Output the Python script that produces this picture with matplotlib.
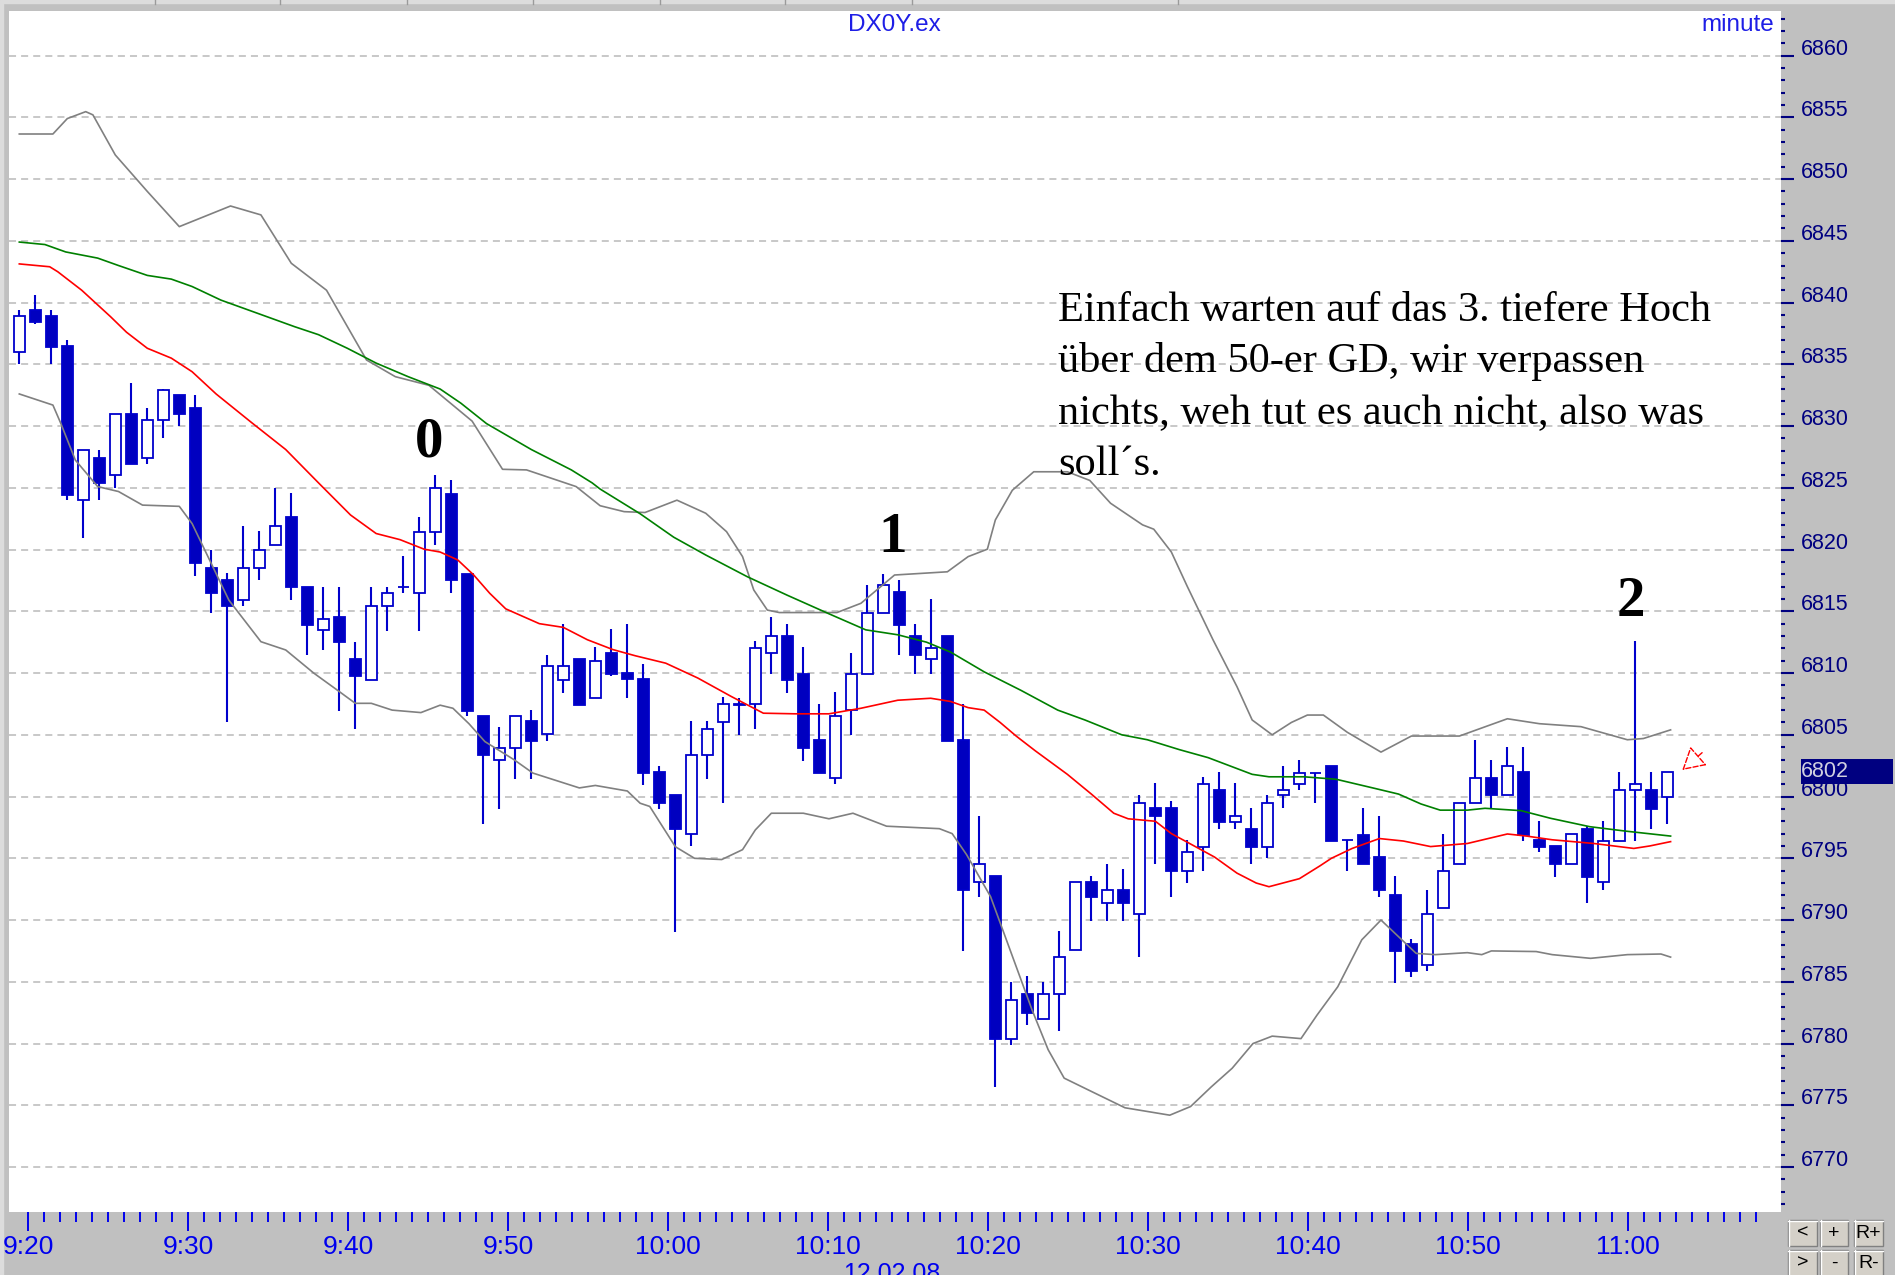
import matplotlib
matplotlib.use("Agg")
import matplotlib.pyplot as plt
from matplotlib.patches import Rectangle
from matplotlib.transforms import ScaledTranslation, blended_transform_factory

# DX0Y.ex, 1-minute candles from 9:20 (12.02.08)
opens = [6836.0, 6839.4, 6838.9, 6836.5, 6824.0, 6827.4, 6826.0, 6831.0, 6827.4, 6830.5,
         6832.5, 6831.5, 6818.5, 6817.5, 6815.9, 6818.5, 6820.4, 6822.6, 6817.0, 6813.5,
         6814.5, 6811.1, 6809.4, 6815.4, 6817.0, 6816.5, 6821.4, 6824.5, 6818.0, 6806.5,
         6803.0, 6803.9, 6806.1, 6805.1, 6809.4, 6811.1, 6808.0, 6811.6, 6810.0, 6809.5,
         6802.0, 6800.1, 6797.0, 6803.4, 6806.0, 6807.5, 6807.5, 6811.6, 6813.0, 6809.9,
         6804.6, 6801.5, 6807.0, 6809.9, 6814.9, 6816.6, 6813.0, 6811.1, 6813.0, 6804.6,
         6793.1, 6793.6, 6780.4, 6784.0, 6782.0, 6784.0, 6787.6, 6793.1, 6791.4, 6792.4,
         6790.5, 6799.1, 6799.1, 6794.0, 6795.9, 6800.5, 6797.9, 6797.4, 6795.9, 6800.1,
         6801.0, 6801.9, 6802.5, 6796.5, 6796.9, 6795.1, 6792.0, 6788.1, 6786.4, 6791.0,
         6794.5, 6799.5, 6801.5, 6800.1, 6802.0, 6796.5, 6796.0, 6794.5, 6797.4, 6793.1,
         6796.4, 6800.5, 6800.5, 6800.0]
highs = [6839.4, 6840.6, 6839.4, 6837.0, 6828.1, 6828.1, 6831.0, 6833.5, 6831.5, 6833.0,
         6832.5, 6832.5, 6820.0, 6818.1, 6821.9, 6821.5, 6825.0, 6824.6, 6817.0, 6817.0,
         6817.0, 6812.5, 6817.0, 6817.0, 6819.5, 6822.6, 6826.0, 6825.6, 6818.0, 6806.5,
         6805.6, 6806.5, 6807.0, 6811.5, 6814.0, 6811.1, 6812.1, 6813.6, 6814.0, 6810.7,
         6802.5, 6800.1, 6806.1, 6806.1, 6808.1, 6808.0, 6812.6, 6814.5, 6814.0, 6812.1,
         6807.5, 6808.5, 6811.6, 6817.1, 6818.0, 6817.5, 6814.0, 6816.0, 6813.0, 6807.5,
         6798.4, 6793.6, 6785.0, 6785.5, 6785.0, 6789.1, 6793.1, 6793.6, 6794.5, 6794.1,
         6800.1, 6801.1, 6799.6, 6796.5, 6801.6, 6802.0, 6801.1, 6799.1, 6800.1, 6802.5,
         6803.0, 6801.9, 6802.5, 6796.5, 6799.1, 6798.4, 6793.6, 6788.5, 6792.4, 6797.0,
         6799.5, 6804.6, 6803.0, 6804.0, 6804.0, 6798.0, 6796.0, 6797.0, 6797.6, 6798.0,
         6802.0, 6812.6, 6802.0, 6802.0]
lows = [6835.0, 6838.3, 6835.0, 6824.0, 6820.9, 6824.0, 6825.0, 6826.9, 6826.9, 6829.0,
        6830.0, 6817.9, 6814.9, 6806.0, 6815.4, 6817.5, 6820.4, 6815.9, 6811.5, 6811.9,
        6806.9, 6805.5, 6809.4, 6813.4, 6816.5, 6813.4, 6820.4, 6816.5, 6806.5, 6797.8,
        6799.0, 6801.4, 6801.4, 6804.5, 6808.4, 6807.4, 6808.0, 6809.8, 6808.0, 6800.9,
        6799.0, 6789.0, 6796.0, 6801.4, 6799.5, 6805.0, 6805.5, 6809.9, 6808.4, 6802.9,
        6801.9, 6801.0, 6805.0, 6809.9, 6814.9, 6811.5, 6809.9, 6809.9, 6804.5, 6787.5,
        6791.9, 6776.5, 6779.9, 6781.5, 6782.0, 6781.0, 6787.6, 6789.9, 6789.9, 6789.9,
        6787.0, 6794.5, 6791.9, 6793.0, 6794.0, 6797.4, 6797.4, 6794.5, 6795.0, 6799.1,
        6800.5, 6799.5, 6796.4, 6794.0, 6794.5, 6791.9, 6784.9, 6785.4, 6785.9, 6791.0,
        6794.5, 6799.5, 6799.1, 6800.1, 6796.4, 6795.5, 6793.5, 6794.5, 6791.4, 6792.4,
        6796.4, 6796.4, 6797.4, 6797.8]
closes = [6838.9, 6838.4, 6836.4, 6824.4, 6828.1, 6825.4, 6831.0, 6826.9, 6830.5, 6832.9,
          6831.0, 6818.9, 6816.5, 6815.4, 6818.5, 6820.0, 6821.9, 6817.0, 6813.9, 6814.4,
          6812.5, 6809.8, 6815.4, 6816.5, 6817.0, 6821.4, 6825.0, 6817.5, 6806.9, 6803.4,
          6803.9, 6806.5, 6804.5, 6810.6, 6810.6, 6807.4, 6811.0, 6809.9, 6809.5, 6801.9,
          6799.5, 6797.4, 6803.4, 6805.5, 6807.5, 6807.4, 6812.0, 6813.0, 6809.4, 6803.9,
          6801.9, 6806.5, 6809.9, 6814.9, 6817.1, 6813.9, 6811.5, 6812.0, 6804.5, 6792.4,
          6794.5, 6780.4, 6783.5, 6782.5, 6784.0, 6787.0, 6793.1, 6791.9, 6792.4, 6791.4,
          6799.5, 6798.4, 6794.0, 6795.5, 6801.0, 6797.9, 6798.4, 6795.9, 6799.5, 6800.5,
          6801.9, 6801.9, 6796.4, 6796.5, 6794.5, 6792.4, 6787.5, 6785.9, 6790.5, 6794.0,
          6799.5, 6801.5, 6800.1, 6802.5, 6796.9, 6795.9, 6794.5, 6797.0, 6793.5, 6796.4,
          6800.5, 6801.0, 6799.0, 6802.0]

# indicator lines: (bar index, price)
upper_x = [0, 2.1, 3.0, 4.15, 4.6, 6.0, 8.0, 10.0, 13.2, 15.1, 17.0, 19.2, 21.7, 23.5, 25.6,
           28.3, 30.2, 31.7, 34.8, 36.3, 37.8, 39.1, 41.1, 42.9, 44.2, 45.2, 45.9, 46.75,
           47.5, 51.1, 52.6, 54.7, 58.0, 59.3, 60.5, 61.0, 62.06, 63.4, 65.5, 66.9, 68.2,
           70.2, 70.9, 72.0, 73.0, 74.6, 76.1, 77.05, 78.3, 79.5, 80.5, 81.5, 83.0, 85.1,
           87.0, 90.0, 93.0, 95.0, 97.6, 100.5, 101.5, 103.2]
upper_y = [6853.65, 6853.65, 6854.9, 6855.46, 6855.2, 6851.95, 6849.0, 6846.15, 6847.82,
           6847.1, 6843.18, 6841.0, 6835.35, 6834.0, 6833.3, 6830.4, 6826.5, 6826.45,
           6825.1, 6823.55, 6823.07, 6823.0, 6824.0, 6822.94, 6821.45, 6819.43, 6816.73,
           6815.1, 6814.9, 6814.9, 6815.65, 6817.94, 6818.2, 6819.43, 6820.03, 6822.4,
           6824.8, 6826.3, 6826.3, 6825.6, 6823.75, 6822.0, 6821.65, 6819.8, 6817.0,
           6812.7, 6808.9, 6806.2, 6805.0, 6806.0, 6806.6, 6806.6, 6805.2, 6803.6, 6804.9,
           6804.9, 6806.3, 6805.9, 6805.66, 6804.6, 6804.7, 6805.4]

lower_x = [0, 2.1, 2.6, 3.5, 4.9, 6.2, 7.7, 10.0, 10.8, 11.8, 13.1, 15.1, 16.65, 18.4, 20.0,
           21.0, 22.0, 23.3, 25.1, 26.3, 27.1, 28.1, 29.1, 30.9, 32.1, 35.0, 36.0, 38.0,
           38.8, 39.4, 41.0, 42.2, 43.9, 45.2, 46.0, 47.0, 49.0, 50.6, 52.1, 54.2, 57.5,
           58.3, 59.2, 60.7, 62.0, 63.3, 64.3, 65.3, 66.8, 69.1, 71.9, 73.2, 74.5, 75.8,
           77.1, 78.3, 80.1, 81.1, 82.4, 83.9, 85.1, 86.2, 87.3, 88.5, 90.5, 91.4, 92.0,
           94.8, 95.8, 98.2, 100.5, 102.6, 103.2]
lower_y = [6832.6, 6831.7, 6830.2, 6827.25, 6825.1, 6824.7, 6823.6, 6823.5, 6822.1, 6819.4,
           6815.9, 6812.54, 6811.87, 6810.0, 6808.5, 6807.55, 6807.55, 6807.0, 6806.8,
           6807.4, 6807.15, 6805.9, 6804.45, 6803.0, 6801.9, 6800.7, 6800.9, 6800.45,
           6799.46, 6799.2, 6795.94, 6795.0, 6794.9, 6795.7, 6797.3, 6798.65, 6798.65,
           6798.2, 6798.65, 6797.6, 6797.4, 6797.0, 6795.3, 6791.9, 6787.3, 6782.7, 6779.5,
           6777.2, 6776.25, 6774.8, 6774.2, 6774.9, 6776.5, 6778.0, 6780.0, 6780.6, 6780.4,
           6782.3, 6784.6, 6788.4, 6790.0, 6788.65, 6787.3, 6787.2, 6787.36, 6787.2, 6787.5,
           6787.45, 6787.2, 6786.9, 6787.2, 6787.25, 6787.0]

red_x = [0, 1.9, 2.4, 3.9, 5.7, 6.7, 8.0, 9.5, 10.8, 12.3, 14.5, 16.65, 18.7, 20.7, 22.3,
         23.8, 25.3, 26.3, 27.4, 28.4, 29.4, 30.4, 32.5, 34.0, 35.5, 37.1, 38.5, 40.4, 42.4,
         44.5, 46.5, 48.5, 50.6, 52.6, 54.9, 56.96, 58.2, 59.3, 60.3, 61.3, 62.3, 63.5, 65.5,
         67.0, 68.4, 69.3, 71.0, 72.0, 73.0, 74.7, 76.1, 77.3, 78.1, 80.0, 81.3, 82.0, 83.3,
         85.0, 86.5, 88.2, 90.5, 93.0, 94.2, 95.8, 98.4, 100.9, 101.9, 103.2]
red_y = [6843.13, 6842.9, 6842.5, 6841.0, 6838.86, 6837.6, 6836.3, 6835.5, 6834.4, 6832.6,
         6830.3, 6828.1, 6825.4, 6822.8, 6821.3, 6820.8, 6820.03, 6819.8, 6819.16, 6817.94,
         6816.46, 6815.2, 6814.0, 6813.7, 6812.7, 6811.9, 6811.4, 6810.8, 6809.6, 6808.1,
         6806.75, 6806.7, 6806.7, 6807.15, 6807.8, 6807.96, 6807.7, 6807.2, 6807.0, 6806.0,
         6804.9, 6803.7, 6801.8, 6800.2, 6798.65, 6798.2, 6798.0, 6797.0, 6796.3, 6795.1,
         6793.8, 6793.0, 6792.7, 6793.35, 6794.4, 6795.0, 6795.8, 6796.6, 6796.4, 6795.95,
         6796.2, 6796.97, 6796.8, 6796.5, 6796.2, 6795.8, 6796.0, 6796.35]

green_x = [0, 1.6, 2.9, 4.9, 6.2, 8.0, 9.5, 10.8, 12.6, 14.1, 17.2, 18.7, 20.5, 22.3, 24.3,
           26.3, 27.6, 29.2, 32.0, 34.5, 35.8, 36.3, 38.8, 40.9, 42.9, 45.5, 48.0, 50.6,
           52.9, 54.9, 56.7, 58.2, 60.3, 62.6, 64.9, 66.6, 68.9, 70.5, 72.5, 74.3, 77.05,
           78.1, 80.3, 82.3, 84.75, 86.2, 87.6, 88.8, 90.5, 91.6, 93.85, 95.7, 98.15, 100.4,
           103.2]
green_y = [6844.9, 6844.7, 6844.1, 6843.6, 6843.0, 6842.2, 6841.9, 6841.3, 6840.2, 6839.5,
           6838.05, 6837.4, 6836.3, 6835.1, 6834.0, 6833.0, 6831.85, 6830.2, 6828.1,
           6826.45, 6825.4, 6824.9, 6822.9, 6821.0, 6819.56, 6817.8, 6816.3, 6814.8,
           6813.5, 6813.1, 6812.5, 6811.7, 6810.1, 6808.6, 6807.0, 6806.2, 6805.0, 6804.6,
           6803.8, 6803.15, 6801.8, 6801.6, 6801.6, 6801.4, 6800.65, 6800.2, 6799.4, 6798.9,
           6798.9, 6799.05, 6798.86, 6798.24, 6797.56, 6797.2, 6796.8]

time_labels = ['9:20', '9:30', '9:40', '9:50', '10:00', '10:10', '10:20', '10:30',
               '10:40', '10:50', '11:00']
price_ticks = list(range(6770, 6861, 5))
last_price = 6802

note_lines = ['Einfach warten auf das 3. tiefere Hoch',
              'über dem 50-er GD, wir verpassen',
              'nichts, weh tut es auch nicht, also was',
              'soll´s.']
note_prices = [6838.47, 6834.36, 6830.15, 6826.04]
marks = ['0', '1', '2']
mark_x = [25.6, 54.6, 100.7]
mark_y = [6827.5, 6819.8, 6814.6]

plt.rcParams['font.family'] = ['Liberation Sans', 'DejaVu Sans']
narrow = ['Liberation Sans Narrow', 'Liberation Sans', 'DejaVu Sans']
blue = '#0000cc'
W, H = 1895, 1275

fig = plt.figure(figsize=(W / 100, H / 100), dpi=100, facecolor='#c0c0c0')

# window frame (pixel coordinates)
bg = fig.add_axes([0, 0, 1, 1])
bg.set_xlim(0, W)
bg.set_ylim(H, 0)
bg.axis('off')
bg.add_patch(Rectangle((0, 0), W, 3, color='#dcdcdc'))
for sx in [155, 280, 407, 533, 660, 785, 912, 1178]:
    bg.plot([sx, sx], [0, 4], color='#9a9a9a', lw=1)
bg.add_patch(Rectangle((0, 0), 3, H, color='#dcdcdc'))
# buttons
for bx, bw, row, txt in [(1788, 29, 0, '<'), (1820, 28, 0, '+'), (1854, 29, 0, 'R+'),
                          (1788, 29, 1, '>'), (1820, 28, 1, '-'), (1854, 29, 1, 'R-')]:
    by = 1220 + row * 30
    bg.add_patch(Rectangle((bx, by), bw, 26, facecolor='#d4d0c8', edgecolor='#808080', lw=1))
    bg.plot([bx, bx + bw], [by + 1, by + 1], color='white', lw=1)
    bg.plot([bx + 1, bx + 1], [by, by + 26], color='white', lw=1)
    bg.text(bx + bw / 2, by + 13, txt, ha='center', va='center', fontsize=14, color='black')
bg.text(892, 1262, '12.02.08', ha='center', va='top', fontsize=18, color='#0000ee',
        family=narrow)

ax = fig.add_axes([9 / W, 1 - 1212 / H, (1781 - 9) / W, (1212 - 11) / H])
ax.set_facecolor('white')
ax.set_xlim(-0.644, 110.1)
ax.set_ylim(6766.36, 6863.61)
for s in ax.spines.values():
    s.set_visible(False)

ax.set_axisbelow(True)
ax.yaxis.tick_right()
ax.set_yticks(price_ticks)
ax.set_yticks(range(6767, 6864), minor=True)
ax.grid(True, axis='y', which='major', color='#c4c4c4', linestyle=(0, (3.9, 2.8)), lw=1.3)
ax.tick_params(axis='y', which='major', direction='out', length=9.5, width=1.5,
               colors='#000080', labelsize=15.5, pad=5)
ax.tick_params(axis='y', which='minor', direction='out', length=2.6, width=1.5,
               color='#000080')
for lbl in ax.get_yticklabels():
    lbl.set_transform(lbl.get_transform() + ScaledTranslation(0, 0.09, fig.dpi_scale_trans))

ax.set_xticks([m + 0.55 for m in range(0, 101, 10)])
ax.set_xticklabels(time_labels, family=narrow)
ax.set_xticks([m + 0.55 for m in range(0, 109)], minor=True)
ax.tick_params(axis='x', which='major', direction='out', length=13.7, width=1.4,
               colors='#0000ee', labelsize=19, pad=3)
ax.tick_params(axis='x', which='minor', direction='out', length=7.2, width=1.4,
               color='#0000ee')

# candles
idx = list(range(len(opens)))
ax.vlines(idx, lows, highs, color=blue, lw=1.5, zorder=2)
bottoms = [min(o, c) for o, c in zip(opens, closes)]
heights = [abs(c - o) for o, c in zip(opens, closes)]
faces = ['white' if c >= o else '#0000c0' for o, c in zip(opens, closes)]
ax.bar(idx, heights, bottom=bottoms, width=0.7, color=faces, edgecolor=blue, lw=1.3,
       zorder=3)

# bands and moving averages
ax.plot(upper_x, upper_y, color='#808080', lw=1.2, zorder=4)
ax.plot(lower_x, lower_y, color='#808080', lw=1.2, zorder=4)
ax.plot(red_x, red_y, color='#ff0000', lw=1.2, zorder=4)
ax.plot(green_x, green_y, color='#008000', lw=1.2, zorder=4)

ax.text(0.4994, 0.9883, 'DX0Y.ex', transform=ax.transAxes, ha='center', va='center',
        fontsize=17.5, color='#1e1ee6', family=narrow)
ax.text(0.996, 0.9883, 'minute', transform=ax.transAxes, ha='right', va='center',
        fontsize=17.5, color='#1e1ee6', family=narrow)

for t, yv in zip(note_lines, note_prices):
    ax.text(64.9, yv, t, ha='left', va='baseline', fontsize=30.5,
            family=['Liberation Serif', 'DejaVu Serif'], color='black', zorder=6)
for t, xv, yv in zip(marks, mark_x, mark_y):
    ax.text(xv, yv, t, ha='center', va='baseline', fontsize=41, fontweight='bold',
            family=['Liberation Serif', 'DejaVu Serif'], color='black', zorder=6)

# last price marker
ax.annotate('', xy=(103.8, 6802.0), xytext=(105.3, 6803.7),
            arrowprops=dict(arrowstyle='-|>,head_length=0.7,head_width=0.4', ec='red',
                            fc='white', lw=1.0, ls='--', mutation_scale=20), zorder=6)
bt = blended_transform_factory(ax.transAxes, ax.transData)
ax.add_patch(Rectangle((1.0113, last_price - 1.0), 0.052, 2.05, transform=bt,
                       facecolor='#000080', edgecolor='none', clip_on=False, zorder=7))
ax.text(1.0113, last_price, str(last_price), transform=bt, ha='left', va='center',
        fontsize=15.5, color='#d0d0e0', clip_on=False, zorder=8)

fig.savefig('out.png', dpi=100, facecolor=fig.get_facecolor())
